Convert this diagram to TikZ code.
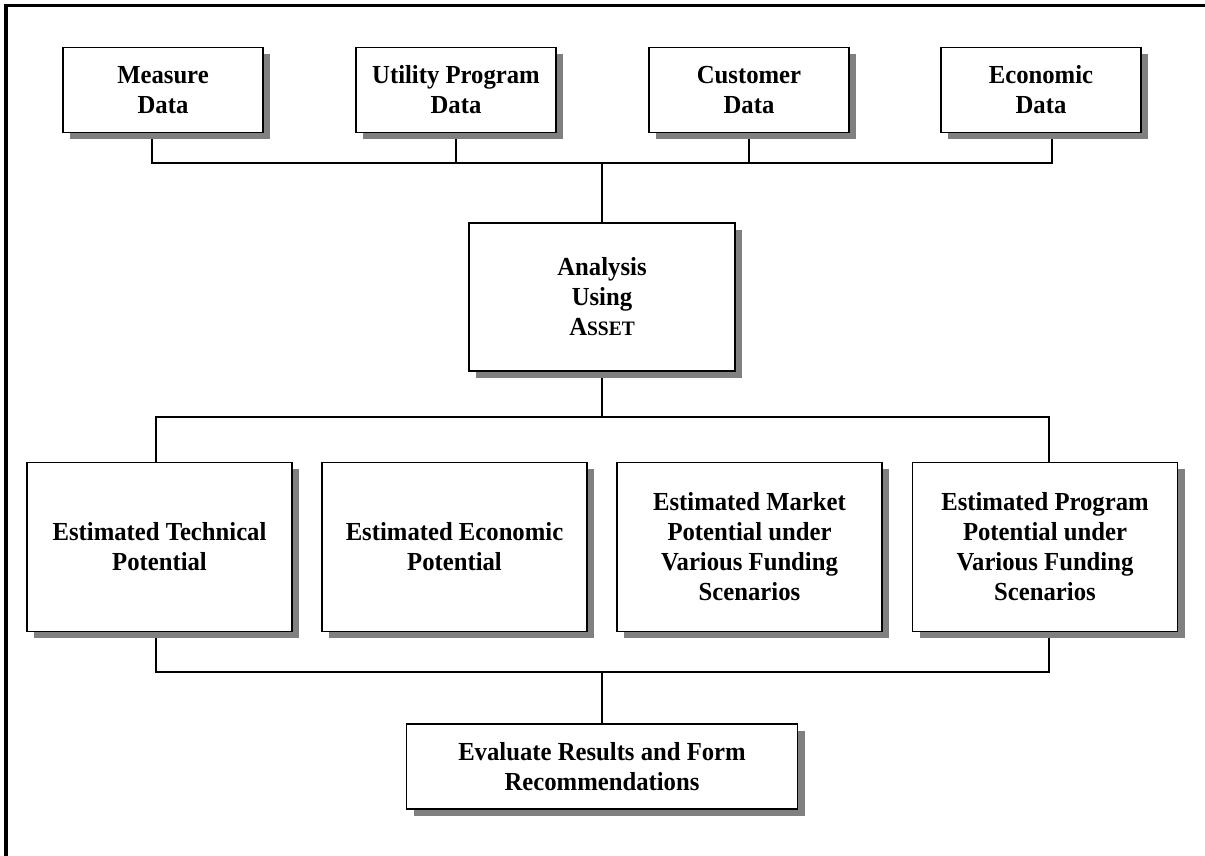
\documentclass[tikz,border=0pt]{standalone}
\usepackage{fontspec}
\setmainfont{Liberation Serif}[FakeStretch=0.95]
\usetikzlibrary{shadows,backgrounds}
\begin{document}
\begin{tikzpicture}[x=1pt,y=-1pt,
  box/.style={draw=black, line width=1.4pt, fill=white, align=center, inner sep=0pt,
    font=\bfseries\fontsize{26}{30}\selectfont,
    drop shadow={shadow xshift=7pt, shadow yshift=-7pt, fill=black!50, opacity=1}},
  link/.style={draw=black, line width=1.4pt},
  topbox/.style={box, minimum width=200pt, minimum height=85pt},
  midbox/.style={box, minimum width=265pt, minimum height=169pt}]

\useasboundingbox (0,0) rectangle (1205,856);

% frame edges along the top and left
\draw[line width=3.6pt] (5.7,856) -- (5.7,5.7) -- (1205,5.7);

% data sources
\node[topbox] (meas) at (163,90)  {Measure\\Data};
\node[topbox] (util) at (456,90)  {Utility Program\\Data};
\node[topbox] (cust) at (749,90)  {Customer\\Data};
\node[topbox] (econ) at (1041,90) {Economic\\Data};

% analysis step
\node[box, minimum width=266pt, minimum height=148pt] (an) at (602,297)
  {Analysis\\Using\\A{\fontsize{20.5}{30}\selectfont SSET}};

% estimated potentials
\node[midbox] (tech) at (159.5,546.75) {Estimated Technical\\Potential};
\node[midbox] (ecop) at (454.5,546.75) {Estimated Economic\\Potential};
\node[midbox] (mark) at (749.5,546.75) {Estimated Market\\Potential under\\Various Funding\\Scenarios};
\node[midbox] (prog) at (1045,546.75)  {Estimated Program\\Potential under\\Various Funding\\Scenarios};

% final step
\node[box, minimum width=391pt, minimum height=85pt] (eval) at (602,766.5)
  {Evaluate Results and Form\\Recommendations};

% bus junctions
\coordinate (busA) at (602,163);
\coordinate (busB) at (602,417);
\coordinate (busC) at (602,672);

\begin{scope}[on background layer]
  \draw[link] ([xshift=-11pt]meas.south) |- (busA);
  \draw[link] (util.south) |- (busA);
  \draw[link] (cust.south) |- (busA);
  \draw[link] ([xshift=11pt]econ.south) |- (busA);
  \draw[link] (busA) -- (an.north);

  \draw[link] (an.south) -- (busB);
  \draw[link] (busB) -| ([xshift=-3.5pt]tech.north);
  \draw[link] (busB) -| ([xshift=4pt]prog.north);

  \draw[link] ([xshift=-3.5pt]tech.south) |- (busC);
  \draw[link] ([xshift=4pt]prog.south) |- (busC);
  \draw[link] (busC) -- (eval.north);
\end{scope}
\end{tikzpicture}
\end{document}
